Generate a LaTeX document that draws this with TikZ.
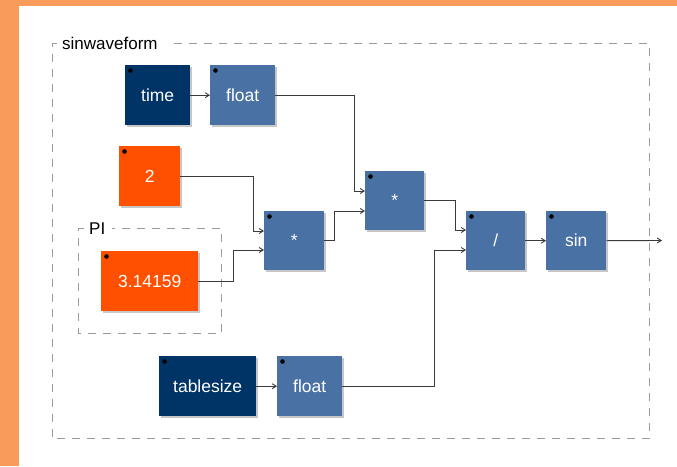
\documentclass[tikz,border=0pt]{standalone}
\usepackage{fontspec}
\setmainfont{Liberation Sans}
\usetikzlibrary{arrows.meta,calc,shadows}
\definecolor{navy}{HTML}{003366}
\definecolor{fblue}{HTML}{4A71A3}
\definecolor{forange}{HTML}{FF5000}
\definecolor{bgorange}{HTML}{F99C5B}
\definecolor{wirecol}{HTML}{3A3A3A}
\definecolor{dashcol}{HTML}{9A9A9A}
\begin{document}
\begin{tikzpicture}[x=1pt,y=-1pt,
  blk/.style={anchor=north west,inner sep=0pt,text=white,
    font=\fontsize{17.5}{20}\selectfont,
    drop shadow={shadow xshift=1.5pt,shadow yshift=-1.5pt,fill=black,opacity=0.22}},
  wire/.style={draw=wirecol,line width=0.9pt},
  arr/.style={wire,-{Straight Barb[length=4pt,width=5pt]}},
  dbox/.style={draw=dashcol,line width=1pt,dash pattern=on 8pt off 7pt},
  lbl/.style={anchor=west,inner sep=0pt,font=\fontsize{17}{20}\selectfont,text=black}]
\useasboundingbox (0,0) rectangle (677,466);
\fill[bgorange] (0,0) rectangle (677,466);
\fill[white] (19,6) rectangle (677,466);
% group boxes
\node[lbl] (swlab) at (62,43.5) {sinwaveform};
\draw[dbox] (57,43.5) -- (52,43.5) -- (52,438.5) -- (649.5,438.5) -- (649.5,43.5) -- (170,43.5);
\node[lbl] (pilab) at (89,228.5) {PI};
\draw[dbox] (84,228.5) -- (78.5,228.5) -- (78.5,333.5) -- (221.5,333.5) -- (221.5,228.5) -- (112,228.5);
% blocks
\node[blk,fill=navy,minimum width=65pt,minimum height=60pt] (time) at (125,65) {time};
\node[blk,fill=fblue,minimum width=65pt,minimum height=60pt] (float1) at (210,65) {float};
\node[blk,fill=forange,minimum width=61pt,minimum height=60pt] (two) at (119,146) {2};
\node[blk,fill=forange,minimum width=97pt,minimum height=60pt] (pi) at (101,251) {3.14159};
\node[blk,fill=fblue,minimum width=60pt,minimum height=59pt] (mult1) at (264,211) {*};
\node[blk,fill=fblue,minimum width=59pt,minimum height=59pt] (mult2) at (365,171) {*};
\node[blk,fill=fblue,minimum width=59pt,minimum height=59pt] (div) at (466,211) {/};
\node[blk,fill=fblue,minimum width=60pt,minimum height=59pt] (sin) at (546,211) {sin};
\node[blk,fill=navy,minimum width=97pt,minimum height=60pt] (tsize) at (159,356) {tablesize};
\node[blk,fill=fblue,minimum width=65pt,minimum height=60pt] (float2) at (277,356) {float};
\foreach \b in {time,float1,two,pi,mult1,mult2,div,sin,tsize,float2}
  \fill[black] ($(\b.north west)+(5.5pt,-5.5pt)$) circle (2.3pt);
% wires
\coordinate (out) at (662,240.5);
\draw[arr] (time.east) -- (float1.west);
\draw[arr] (float1.east) -- ++(79pt,0pt) |- ($(mult2.north west)+(0pt,-20pt)$);
\draw[arr] (two.east) -- ++(73pt,0pt) |- ($(mult1.north west)+(0pt,-20pt)$);
\draw[arr] (pi.east) -- ++(35pt,0pt) |- ($(mult1.north west)+(0pt,-39pt)$);
\draw[arr] (mult1.east) -- ++(10pt,0pt) |- ($(mult2.north west)+(0pt,-40pt)$);
\draw[arr] (mult2.east) -- ++(31pt,0pt) |- ($(div.north west)+(0pt,-19pt)$);
\draw[arr] (float2.east) -- ++(92pt,0pt) |- ($(div.north west)+(0pt,-39pt)$);
\draw[arr] (tsize.east) -- (float2.west);
\draw[arr] (div.east) -- (sin.west);
\draw[arr] (sin.east) -- (out);
\end{tikzpicture}
\end{document}
